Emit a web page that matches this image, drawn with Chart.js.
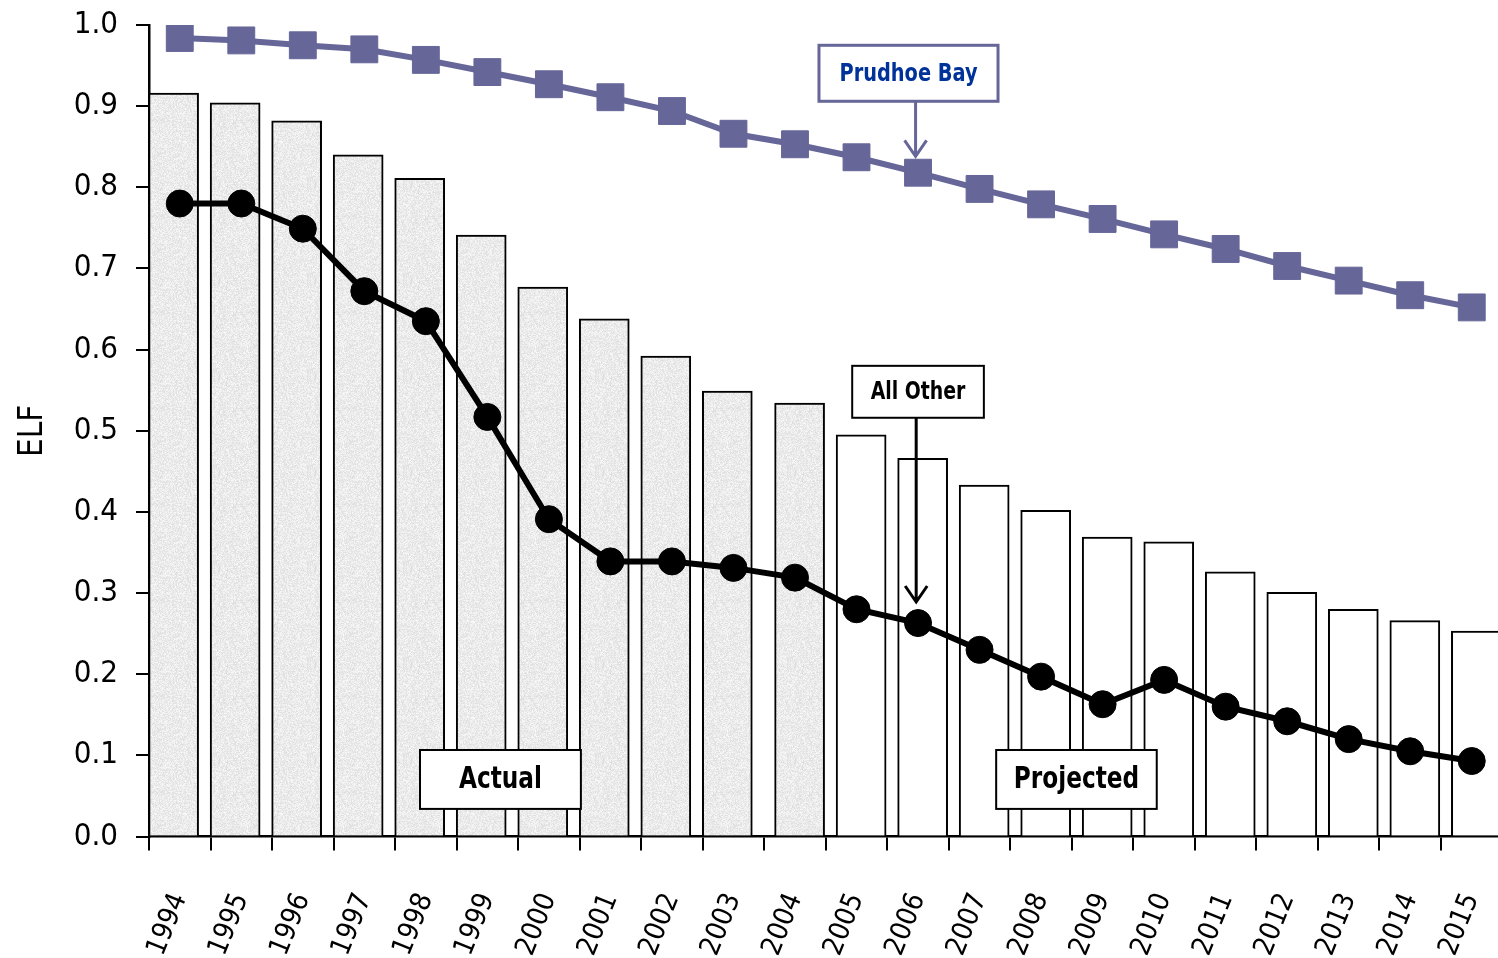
<!DOCTYPE html>
<html>
<head>
<meta charset="utf-8">
<script src="https://cdn.jsdelivr.net/npm/chart.js@4.4.1/dist/chart.umd.min.js"></script>
<style>
  html, body { margin: 0; padding: 0; background: #ffffff; }
  #wrap { width: 1498px; height: 958px; }
</style>
</head>
<body>
<div id="wrap"><canvas id="c" width="1498" height="958"></canvas></div>
<script>
// ---- data ----
const years = ['1994','1995','1996','1997','1998','1999','2000','2001','2002','2003','2004',
               '2005','2006','2007','2008','2009','2010','2011','2012','2013','2014','2015'];
const totalElf = [0.916,0.904,0.882,0.840,0.811,0.741,0.677,0.638,0.592,0.549,0.534,
                  0.495,0.466,0.433,0.402,0.369,0.363,0.326,0.301,0.280,0.266,0.253];
const prudhoeBay = [0.984,0.981,0.975,0.970,0.957,0.942,0.927,0.911,0.894,0.866,0.853,
                    0.837,0.818,0.798,0.779,0.761,0.742,0.724,0.703,0.685,0.667,0.652];
const allOther = [0.780,0.780,0.749,0.672,0.635,0.517,0.391,0.339,0.339,0.331,0.319,
                  0.280,0.263,0.230,0.197,0.163,0.193,0.160,0.142,0.120,0.105,0.093];
const lastActualYear = '2004';
const yTicks = [0.0,0.1,0.2,0.3,0.4,0.5,0.6,0.7,0.8,0.9,1.0];

// ---- styles ----
const FONT = "'DejaVu Sans Condensed', 'Liberation Sans Narrow', 'DejaVu Sans', sans-serif";
Chart.defaults.font.family = FONT;
Chart.defaults.color = '#000';
const PLOT_RIGHT_OVERHANG = 4.5;   // the reference's axis runs a little past the right edge

// deterministic speckle texture for "actual" bars
function makeSpeckle() {
  const s = 96, cv = document.createElement('canvas');
  cv.width = s; cv.height = s;
  const cx = cv.getContext('2d');
  const img = cx.createImageData(s, s);
  for (let yy = 0; yy < s; yy++) {
    for (let xx = 0; xx < s; xx++) {
      let h = (xx * 374761393 + yy * 668265263) | 0;
      h = (h ^ (h >>> 13)) * 1274126177 | 0;
      h = (h ^ (h >>> 16)) >>> 0;
      const t = (h % 1000) / 1000;
      const g = Math.round(222 + t * 26);
      const i = (yy * s + xx) * 4;
      img.data[i] = g; img.data[i+1] = g; img.data[i+2] = g; img.data[i+3] = 255;
    }
  }
  cx.putImageData(img, 0, 0);
  return cx.createPattern(cv, 'repeat');
}
const speckle = makeSpeckle();
const actualEnd = years.indexOf(lastActualYear);
const barShift = i => (i < actualEnd ? -0.1 : 0.075);

// ---- stretch plot area to the reference's right edge ----
const stretchPlugin = {
  id: 'stretch',
  afterLayout(chart) {
    const R = chart.width + PLOT_RIGHT_OVERHANG;
    const ca = chart.chartArea;
    ca.right = R; ca.width = R - ca.left;
    ['x', 'xb'].forEach(id => {
      const s = chart.scales[id];
      s.right = R; s.width = R - s.left;
      s.configure();
    });
  }
};

// ---- annotation plugin (boxes + arrows anchored to scales) ----
const notes = [
  { text: 'Prudhoe Bay', x0: 10.39, x1: 13.30, yTop: 0.975, yBot: 0.906, size: 25, squeeze: 0.86,
    color: '#003399', border: '#666699', bw: 3, arrowX: 11.96, arrowTip: 0.838 },
  { text: 'All Other', x0: 10.93, x1: 13.07, yTop: 0.580, yBot: 0.516, size: 25, squeeze: 0.84,
    color: '#000', border: '#000', bw: 2, arrowX: 11.97, arrowTip: 0.289 },
  { text: 'Actual', x0: 3.905, x1: 6.52, yTop: 0.1066, yBot: 0.034, size: 30, squeeze: 0.86,
    color: '#000', border: '#000', bw: 2 },
  { text: 'Projected', x0: 13.27, x1: 15.88, yTop: 0.1066, yBot: 0.034, size: 30, squeeze: 0.86,
    color: '#000', border: '#000', bw: 2 }
];
const notesPlugin = {
  id: 'notes',
  afterDatasetsDraw(chart) {
    const xs = chart.scales.xb, ys = chart.scales.y, ctx = chart.ctx;
    notes.forEach(n => {
      const l = xs.getPixelForValue(n.x0), r = xs.getPixelForValue(n.x1);
      const t = ys.getPixelForValue(n.yTop), b = ys.getPixelForValue(n.yBot);
      ctx.save();
      ctx.fillStyle = '#fff';
      ctx.fillRect(l, t, r - l, b - t);
      ctx.lineWidth = n.bw;
      ctx.strokeStyle = n.border;
      ctx.strokeRect(l, t, r - l, b - t);
      if (n.arrowX !== undefined) {
        const ax = xs.getPixelForValue(n.arrowX), tip = ys.getPixelForValue(n.arrowTip);
        ctx.beginPath();
        ctx.lineWidth = 3;
        ctx.moveTo(ax, b);
        ctx.lineTo(ax, tip);
        ctx.moveTo(ax - 11, tip - 16);
        ctx.lineTo(ax, tip);
        ctx.lineTo(ax + 11, tip - 16);
        ctx.stroke();
      }
      ctx.translate((l + r) / 2, (t + b) / 2 + 1);
      ctx.scale(n.squeeze, 1);
      ctx.fillStyle = n.color;
      ctx.font = 'bold ' + n.size + 'px ' + FONT;
      ctx.textAlign = 'center';
      ctx.textBaseline = 'middle';
      ctx.fillText(n.text, 0, 0);
      ctx.restore();
    });
  }
};

new Chart(document.getElementById('c'), {
  data: {
    labels: years,
    datasets: [
      {
        type: 'line', label: 'Prudhoe Bay', data: prudhoeBay, xAxisID: 'x', order: 1,
        borderColor: '#666699', backgroundColor: '#666699', borderWidth: 6, tension: 0,
        pointStyle: 'rect', pointRadius: 19, pointBorderWidth: 1,
        pointBackgroundColor: '#666699', pointBorderColor: '#666699'
      },
      {
        type: 'line', label: 'All Other', data: allOther, xAxisID: 'x', order: 2,
        borderColor: '#000', backgroundColor: '#000', borderWidth: 6, tension: 0,
        pointStyle: 'circle', pointRadius: 13.5, pointBorderWidth: 1,
        pointBackgroundColor: '#000', pointBorderColor: '#000'
      },
      {
        type: 'bar', label: 'Total', xAxisID: 'xb', order: 3,
        data: totalElf.map((v, i) => ({ x: i + barShift(i), y: v })),
        backgroundColor: totalElf.map((v, i) => i <= actualEnd ? speckle : '#ffffff'),
        borderColor: '#000', borderWidth: 2,
        grouped: false, barThickness: 50
      }
    ]
  },
  options: {
    responsive: false,
    animation: false,
    devicePixelRatio: 1,
    layout: { padding: { top: 25, right: 0, left: 0, bottom: 0 } },
    plugins: { legend: { display: false }, tooltip: { enabled: false } },
    scales: {
      x: {
        type: 'category', offset: true, position: 'bottom',
        grid: { offset: true, drawOnChartArea: false, drawTicks: true, tickLength: 14,
                color: '#000', lineWidth: 2 },
        border: { display: true, color: '#000', width: 2.5 },
        ticks: { autoSkip: false, minRotation: 68, maxRotation: 68, padding: 38,
                 font: { size: 28 }, color: '#000' },
        afterFit(s) { s.height = 121.5; s.paddingLeft = 0; s.paddingRight = 0; }
      },
      xb: {
        type: 'linear', display: false, offset: false, min: -0.5, max: 21.5
      },
      y: {
        type: 'linear', min: 0, max: 1,
        title: { display: true, text: 'ELF', font: { size: 33 }, color: '#000',
                 padding: { top: 14, bottom: 0 } },
        grid: { drawOnChartArea: false, drawTicks: true, tickLength: 13,
                color: '#000', lineWidth: 2 },
        border: { display: true, color: '#000', width: 2.5 },
        afterBuildTicks(s) { s.ticks = yTicks.map(v => ({ value: v })); },
        ticks: { padding: 18, font: { size: 31 }, color: '#000',
                 callback: v => Number(v).toFixed(1) },
        afterFit(s) { s.width = 149; s.paddingTop = 0; s.paddingBottom = 0; }
      }
    }
  },
  plugins: [stretchPlugin, notesPlugin]
});
</script>
</body>
</html>
